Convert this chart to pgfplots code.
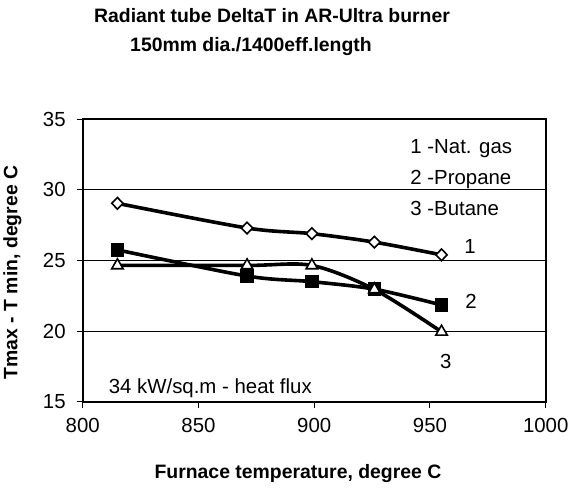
\documentclass[border=0pt]{standalone}
\usepackage{pgfplots}
\pgfplotsset{compat=1.18}
\usepackage{fontspec}
\setmainfont{Liberation Sans}
\begin{document}
\begin{tikzpicture}
\useasboundingbox (0,0) rectangle (285.5bp,244bp);
\begin{axis}[
  at={(41.35bp,43.15bp)}, anchor=south west,
  scale only axis, width=231.5bp, height=141.2bp,
  xmin=800, xmax=1000, ymin=15, ymax=35,
  xtick={800,850,...,1000}, ytick={15,20,...,35},
  tick align=outside, major tick length=3bp,
  tick style={black, line width=0.5bp},
  xtick pos=bottom, ytick pos=left,
  ymajorgrids, grid style={black, line width=0.5bp},
  axis line style={line width=1bp},
  /pgf/number format/assume math mode=true,
  /pgf/number format/1000 sep={},
  tick label style={font=\fontsize{10.2bp}{12bp}\selectfont},
  xticklabel style={yshift=-2bp},
  yticklabel style={xshift=-2bp},
  xlabel={\bfseries Furnace temperature, degree C},
  ylabel={\bfseries Tmax - T min, degree C},
  label style={font=\fontsize{9.7bp}{12bp}\selectfont},
  xlabel style={at={(rel axis cs:0.465,-0.255)}, anchor=center},
  ylabel style={at={(rel axis cs:-0.152,0.4575)}, anchor=center},
  clip=false,
]
\addplot[black, line width=1.8bp, smooth, tension=0.5,
  mark=diamond*, mark options={fill=white, line width=0.8bp, xscale=1.3}, mark size=2.9bp]
  coordinates {(815,29.05) (871,27.3) (899,26.9) (926,26.3) (955,25.4)};
\addplot[black, line width=1.8bp, smooth, tension=0.5,
  mark=square*, mark options={fill=black, line width=0.5bp}, mark size=3.1bp]
  coordinates {(815,25.75) (871,23.9) (899,23.5) (926,22.97) (955,21.85)};
\addplot[black, line width=1.8bp, smooth, tension=0.5,
  mark=triangle*, mark options={fill=white, line width=0.8bp}, mark size=3.3bp]
  coordinates {(815,24.65) (871,24.65) (899,24.65) (926,22.95) (955,19.95)};
\node[anchor=west, font=\fontsize{10.2bp}{12bp}\selectfont, inner sep=0pt] at (axis cs:941.4,32.9) {1 -Nat. gas};
\node[anchor=west, font=\fontsize{10.2bp}{12bp}\selectfont, inner sep=0pt] at (axis cs:941.4,30.77) {2 -Propane};
\node[anchor=west, font=\fontsize{10.2bp}{12bp}\selectfont, inner sep=0pt] at (axis cs:941.4,28.65) {3 -Butane};
\node[font=\fontsize{10.2bp}{12bp}\selectfont, inner sep=0pt] at (axis cs:967.3,25.98) {1};
\node[font=\fontsize{10.2bp}{12bp}\selectfont, inner sep=0pt] at (axis cs:967.7,22.08) {2};
\node[font=\fontsize{10.2bp}{12bp}\selectfont, inner sep=0pt] at (axis cs:956.8,17.88) {3};
\node[anchor=west, font=\fontsize{10.2bp}{12bp}\selectfont, inner sep=0pt] at (axis cs:811.1,15.97) {34 kW/sq.m - heat flux};
\end{axis}
\node[font=\bfseries\fontsize{9.7bp}{12bp}\selectfont, inner sep=0pt] at (136bp,236bp) {Radiant tube DeltaT in AR-Ultra burner};
\node[font=\bfseries\fontsize{9.7bp}{12bp}\selectfont, inner sep=0pt] at (125.5bp,220.5bp) {150mm dia./1400eff.length};
\end{tikzpicture}
\end{document}
